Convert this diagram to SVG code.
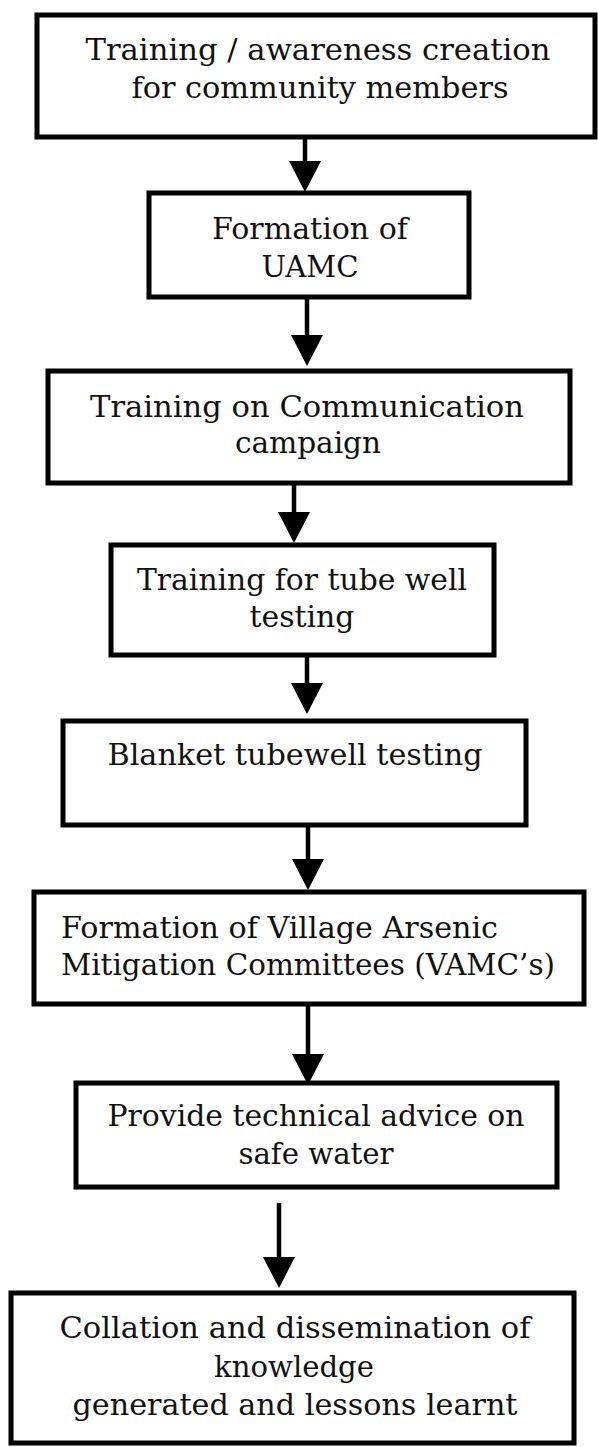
<svg xmlns="http://www.w3.org/2000/svg" width="598" height="1447" viewBox="0 0 598 1447">
<style>
.box{fill:#fff;stroke:#000;stroke-width:5}
.t{font-family:"DejaVu Serif","Liberation Serif",serif;font-size:30px;fill:#111}
.c{text-anchor:middle}
.arr{stroke:#000;stroke-width:4.5;fill:none}
</style>
<defs>
<marker id="ah" markerUnits="userSpaceOnUse" markerWidth="32" markerHeight="32" viewBox="0 -16 31 32" refX="0" refY="0" orient="auto" overflow="visible">
<path d="M0,-16 L31,0 L0,16 Z" fill="#000"/>
</marker>
</defs>
<rect width="598" height="1447" fill="#fff"/>
<g id="connectors">
<line class="arr" x1="305" y1="137" x2="305" y2="161" marker-end="url(#ah)"/>
<line class="arr" x1="307" y1="297" x2="307" y2="335" marker-end="url(#ah)"/>
<line class="arr" x1="294" y1="483" x2="294" y2="512" marker-end="url(#ah)"/>
<line class="arr" x1="307" y1="655" x2="307" y2="683" marker-end="url(#ah)"/>
<line class="arr" x1="308" y1="825" x2="308" y2="859" marker-end="url(#ah)"/>
<line class="arr" x1="308" y1="1004" x2="308" y2="1054" marker-end="url(#ah)"/>
<line class="arr" x1="279" y1="1203" x2="279" y2="1257" marker-end="url(#ah)"/>
</g>
<g id="n1">
<rect class="box" x="37" y="15" width="558" height="122"/>
<text class="t c" x="318" y="60" textLength="465" lengthAdjust="spacingAndGlyphs">Training / awareness creation</text>
<text class="t c" x="320" y="98" textLength="377" lengthAdjust="spacingAndGlyphs">for community members</text>
</g>
<g id="n2">
<rect class="box" x="149" y="193" width="320" height="104"/>
<text class="t c" x="310" y="239" textLength="196" lengthAdjust="spacingAndGlyphs">Formation of</text>
<text class="t c" x="310" y="277" textLength="97" lengthAdjust="spacingAndGlyphs">UAMC</text>
</g>
<g id="n3">
<rect class="box" x="48" y="371" width="522" height="112"/>
<text class="t c" x="307" y="417" textLength="434" lengthAdjust="spacingAndGlyphs">Training on Communication</text>
<text class="t c" x="308" y="453" textLength="146" lengthAdjust="spacingAndGlyphs">campaign</text>
</g>
<g id="n4">
<rect class="box" x="111" y="545" width="383" height="110"/>
<text class="t c" x="302" y="590" textLength="330" lengthAdjust="spacingAndGlyphs">Training for tube well</text>
<text class="t c" x="302" y="627" textLength="105" lengthAdjust="spacingAndGlyphs">testing</text>
</g>
<g id="n5">
<rect class="box" x="63" y="721" width="463" height="104"/>
<text class="t c" x="295" y="765" textLength="375" lengthAdjust="spacingAndGlyphs">Blanket tubewell testing</text>
</g>
<g id="n6">
<rect class="box" x="34" y="892" width="550" height="112"/>
<text class="t" x="61" y="938" textLength="437" lengthAdjust="spacingAndGlyphs">Formation of Village Arsenic</text>
<text class="t" x="61" y="975" textLength="494" lengthAdjust="spacingAndGlyphs">Mitigation Committees (VAMC’s)</text>
</g>
<g id="n7">
<rect class="box" x="76" y="1083" width="481" height="104"/>
<text class="t c" x="316" y="1126" textLength="417" lengthAdjust="spacingAndGlyphs">Provide technical advice on</text>
<text class="t c" x="316" y="1164" textLength="155" lengthAdjust="spacingAndGlyphs">safe water</text>
</g>
<g id="n8">
<rect class="box" x="11" y="1293" width="563" height="150"/>
<text class="t c" x="295" y="1338" textLength="471" lengthAdjust="spacingAndGlyphs">Collation and dissemination of</text>
<text class="t c" x="294" y="1377" textLength="160" lengthAdjust="spacingAndGlyphs">knowledge</text>
<text class="t c" x="295" y="1415" textLength="445" lengthAdjust="spacingAndGlyphs">generated and lessons learnt</text>
</g>
</svg>
